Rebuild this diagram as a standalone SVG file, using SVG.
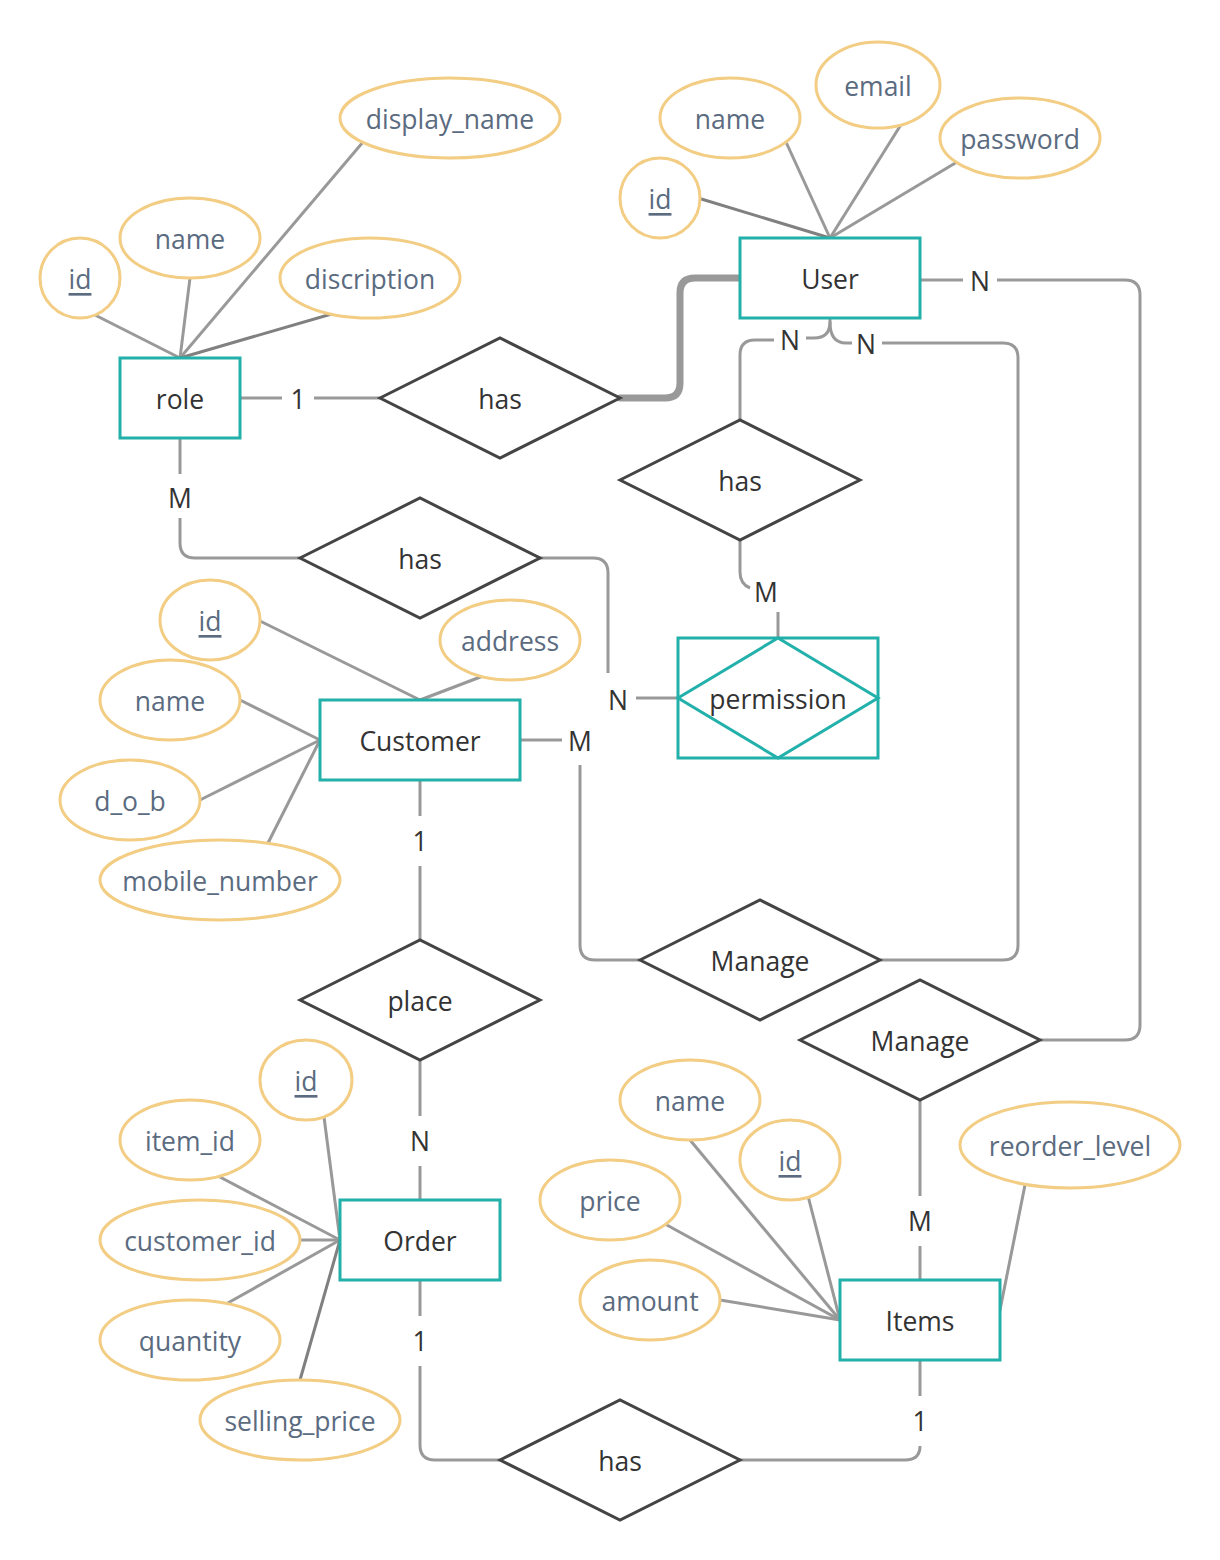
<svg xmlns="http://www.w3.org/2000/svg" width="1220" height="1560" viewBox="0 0 1220 1560">
<style>
.ent{fill:#fff;stroke:#22b0aa;stroke-width:3}
.rel{fill:#fff;stroke:#444;stroke-width:3;stroke-linejoin:miter}
.att{fill:#fff;stroke:#f2cd83;stroke-width:3}
.ln{fill:none;stroke:#999;stroke-width:3;stroke-linecap:butt}
.dk{stroke:#808080}
.t{font-family:"Open Sans","Noto Sans","Liberation Sans",sans-serif;font-size:26.5px;fill:#333;text-anchor:middle;dominant-baseline:central}
.a{fill:#5b6b80}
.u{text-decoration:underline}
</style>
<rect width="1220" height="1560" fill="#fff"/>
<g id="connectors">
<line class="ln dk" x1="830" y1="238" x2="698" y2="198"/>
<line class="ln" x1="830" y1="238" x2="786" y2="142"/>
<line class="ln" x1="830" y1="238" x2="902" y2="123"/>
<line class="ln" x1="830" y1="238" x2="957" y2="162"/>
<line class="ln" x1="180" y1="358" x2="95" y2="315"/>
<line class="ln" x1="180" y1="358" x2="190" y2="278"/>
<line class="ln" x1="180" y1="358" x2="363" y2="142"/>
<line class="ln dk" x1="180" y1="358" x2="335" y2="313"/>
<line class="ln" x1="420" y1="700" x2="258" y2="620"/>
<line class="ln" x1="420" y1="700" x2="483" y2="676"/>
<line class="ln" x1="320" y1="740" x2="240" y2="700"/>
<line class="ln" x1="320" y1="740" x2="200" y2="800"/>
<line class="ln" x1="320" y1="740" x2="268" y2="843"/>
<line class="ln" x1="340" y1="1240" x2="324" y2="1117"/>
<line class="ln" x1="340" y1="1240" x2="218" y2="1176"/>
<line class="ln" x1="340" y1="1240" x2="300" y2="1240"/>
<line class="ln" x1="340" y1="1240" x2="226" y2="1304"/>
<line class="ln dk" x1="340" y1="1240" x2="300" y2="1380"/>
<line class="ln" x1="840" y1="1320" x2="690" y2="1140"/>
<line class="ln" x1="840" y1="1320" x2="808" y2="1196"/>
<line class="ln" x1="840" y1="1320" x2="665" y2="1224"/>
<line class="ln" x1="840" y1="1320" x2="720" y2="1300"/>
<line class="ln" x1="998" y1="1320" x2="1025" y2="1185"/>
<path class="ln" d="M240,398 H282 M314,398 H380"/>
<path class="ln" style="stroke-width:7;stroke-linecap:round" d="M620,398 H665 Q680,398 680,383 V293 Q680,278 695,278 H740"/>
<path class="ln" d="M920,280 H963 M997,280 H1125 Q1140,280 1140,295 V1025 Q1140,1040 1125,1040 H1040"/>
<path class="ln" d="M830,318 V322 Q830,338 814,338 H806 M774,340 H755 Q740,340 740,355 V420"/>
<path class="ln" d="M830,322 Q830,343 846,343 H852 M882,343 H1003 Q1018,343 1018,358 V945 Q1018,960 1003,960 H880"/>
<path class="ln" d="M740,540 V572 Q740,584 750,588 M778,612 V638"/>
<path class="ln" d="M540,558 H593 Q608,558 608,573 V673 M636,698 H678"/>
<path class="ln" d="M180,438 V474 M180,518 V543 Q180,558 195,558 H300"/>
<path class="ln" d="M520,740 H562 M580,765 V945 Q580,960 595,960 H640"/>
<path class="ln" d="M420,780 V816 M420,866 V940"/>
<path class="ln" d="M420,1060 V1116 M420,1166 V1200"/>
<path class="ln" d="M420,1280 V1316 M420,1366 V1445 Q420,1460 435,1460 H500"/>
<path class="ln" d="M920,1360 V1396 M920,1446 Q920,1460 905,1460 H740"/>
<path class="ln" d="M920,1100 V1196 M920,1246 V1280"/>
<text class="t" x="298" y="399">1</text>
<text class="t" x="980" y="281">N</text>
<text class="t" x="790" y="340">N</text>
<text class="t" x="866" y="344">N</text>
<text class="t" x="766" y="592">M</text>
<text class="t" x="618" y="700">N</text>
<text class="t" x="180" y="498">M</text>
<text class="t" x="580" y="741">M</text>
<text class="t" x="420" y="841">1</text>
<text class="t" x="420" y="1141">N</text>
<text class="t" x="420" y="1341">1</text>
<text class="t" x="920" y="1421">1</text>
<text class="t" x="920" y="1221">M</text>
</g>
<g id="User"><rect class="ent" x="740" y="238" width="180" height="80"/><text class="t" x="830" y="279">User</text></g>
<g id="role"><rect class="ent" x="120" y="358" width="120" height="80"/><text class="t" x="180" y="399">role</text></g>
<g id="Customer"><rect class="ent" x="320" y="700" width="200" height="80"/><text class="t" x="420" y="741">Customer</text></g>
<g id="Order"><rect class="ent" x="340" y="1200" width="160" height="80"/><text class="t" x="420" y="1241">Order</text></g>
<g id="Items"><rect class="ent" x="840" y="1280" width="160" height="80"/><text class="t" x="920" y="1321">Items</text></g>
<g id="permission"><rect class="ent" x="678" y="638" width="200" height="120"/><polygon class="ent" points="678,698 778,638 878,698 778,758"/><text class="t" x="778" y="699">permission</text></g>
<g id="has_role_user"><polygon class="rel" points="380,398 500,338 620,398 500,458"/><text class="t" x="500" y="399">has</text></g>
<g id="has_user_permission"><polygon class="rel" points="620,480 740,420 860,480 740,540"/><text class="t" x="740" y="481">has</text></g>
<g id="has_role_permission"><polygon class="rel" points="300,558 420,498 540,558 420,618"/><text class="t" x="420" y="559">has</text></g>
<g id="place"><polygon class="rel" points="300,1000 420,940 540,1000 420,1060"/><text class="t" x="420" y="1001">place</text></g>
<g id="Manage1"><polygon class="rel" points="640,960 760,900 880,960 760,1020"/><text class="t" x="760" y="961">Manage</text></g>
<g id="Manage2"><polygon class="rel" points="800,1040 920,980 1040,1040 920,1100"/><text class="t" x="920" y="1041">Manage</text></g>
<g id="has_order_items"><polygon class="rel" points="500,1460 620,1400 740,1460 620,1520"/><text class="t" x="620" y="1461">has</text></g>
<g id="user_id"><ellipse class="att" cx="660" cy="198" rx="40" ry="40"/><text class="t a u" x="660" y="199">id</text></g>
<g id="user_name"><ellipse class="att" cx="730" cy="118" rx="70" ry="40"/><text class="t a" x="730" y="119">name</text></g>
<g id="user_email"><ellipse class="att" cx="878" cy="85" rx="62" ry="43"/><text class="t a" x="878" y="86">email</text></g>
<g id="user_password"><ellipse class="att" cx="1020" cy="138" rx="80" ry="40"/><text class="t a" x="1020" y="139">password</text></g>
<g id="role_id"><ellipse class="att" cx="80" cy="278" rx="40" ry="40"/><text class="t a u" x="80" y="279">id</text></g>
<g id="role_name"><ellipse class="att" cx="190" cy="238" rx="70" ry="40"/><text class="t a" x="190" y="239">name</text></g>
<g id="role_discription"><ellipse class="att" cx="370" cy="278" rx="90" ry="40"/><text class="t a" x="370" y="279">discription</text></g>
<g id="role_display_name"><ellipse class="att" cx="450" cy="118" rx="110" ry="40"/><text class="t a" x="450" y="119">display_name</text></g>
<g id="cust_id"><ellipse class="att" cx="210" cy="620" rx="50" ry="40"/><text class="t a u" x="210" y="621">id</text></g>
<g id="cust_address"><ellipse class="att" cx="510" cy="640" rx="70" ry="40"/><text class="t a" x="510" y="641">address</text></g>
<g id="cust_name"><ellipse class="att" cx="170" cy="700" rx="70" ry="40"/><text class="t a" x="170" y="701">name</text></g>
<g id="cust_dob"><ellipse class="att" cx="130" cy="800" rx="70" ry="40"/><text class="t a" x="130" y="801">d_o_b</text></g>
<g id="cust_mobile"><ellipse class="att" cx="220" cy="880" rx="120" ry="40"/><text class="t a" x="220" y="881">mobile_number</text></g>
<g id="order_id"><ellipse class="att" cx="306" cy="1080" rx="46" ry="40"/><text class="t a u" x="306" y="1081">id</text></g>
<g id="order_item_id"><ellipse class="att" cx="190" cy="1140" rx="70" ry="40"/><text class="t a" x="190" y="1141">item_id</text></g>
<g id="order_customer_id"><ellipse class="att" cx="200" cy="1240" rx="100" ry="40"/><text class="t a" x="200" y="1241">customer_id</text></g>
<g id="order_quantity"><ellipse class="att" cx="190" cy="1340" rx="90" ry="40"/><text class="t a" x="190" y="1341">quantity</text></g>
<g id="order_selling_price"><ellipse class="att" cx="300" cy="1420" rx="100" ry="40"/><text class="t a" x="300" y="1421">selling_price</text></g>
<g id="items_name"><ellipse class="att" cx="690" cy="1100" rx="70" ry="40"/><text class="t a" x="690" y="1101">name</text></g>
<g id="items_id"><ellipse class="att" cx="790" cy="1160" rx="50" ry="40"/><text class="t a u" x="790" y="1161">id</text></g>
<g id="items_price"><ellipse class="att" cx="610" cy="1200" rx="70" ry="40"/><text class="t a" x="610" y="1201">price</text></g>
<g id="items_amount"><ellipse class="att" cx="650" cy="1300" rx="70" ry="40"/><text class="t a" x="650" y="1301">amount</text></g>
<g id="items_reorder_level"><ellipse class="att" cx="1070" cy="1145" rx="110" ry="43"/><text class="t a" x="1070" y="1146">reorder_level</text></g>
</svg>
